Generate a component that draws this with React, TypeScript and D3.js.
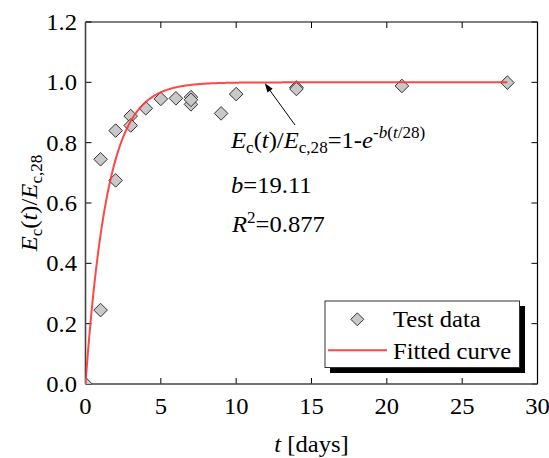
import React from "react";
import * as d3 from "d3";

const testT = [0, 1, 1, 2, 2, 3, 3, 4, 5, 6, 7, 7, 7, 9, 10, 14, 14, 21, 28];
const testY = [0, 0.245, 0.745, 0.675, 0.84, 0.888, 0.857, 0.914, 0.945, 0.947, 0.951, 0.927, 0.942, 0.897, 0.961, 0.983, 0.978, 0.988, 0.999];
const bParam = 19.11;
const xTicks = [0, 5, 10, 15, 20, 25, 30];
const yTicks = [0.0, 0.2, 0.4, 0.6, 0.8, 1.0, 1.2];

const W = 549, H = 458;
const L = 85.5, R = 537.5, T = 22, B = 384;
const FONT = "'Liberation Serif', 'Times New Roman', serif";
const FS = 23;
const SUB = 16;
const SX = 1.07;

function Txt({ x, y, rot = 0, anchor = "start", size = FS, children }: any) {
  return (
    <g transform={`translate(${x},${y}) rotate(${rot}) scale(${SX},1)`}>
      <text x={0} y={0} fontSize={size} textAnchor={anchor}>{children}</text>
    </g>
  );
}

export default function App() {
  const x = d3.scaleLinear().domain([0, 30]).range([L, R]);
  const y = d3.scaleLinear().domain([0, 1.2]).range([B, T]);
  const fitT = d3.range(0, 28.0001, 0.05);
  const line = d3.line<number>().x((t) => x(t)).y((t) => y(1 - Math.exp(-bParam * t / 28)));
  const diamond = (cx: number, cy: number, r = 6.8) =>
    `M${cx},${cy - r}L${cx + r},${cy}L${cx},${cy + r}L${cx - r},${cy}Z`;
  const arrowTip = [x(11.9), y(1.0) + 1];
  const arrowTail = [295, 125];
  const ang = Math.atan2(arrowTip[1] - arrowTail[1], arrowTip[0] - arrowTail[0]);
  const ah = 9, aw = 3.2;
  const ahPts = [
    arrowTip,
    [arrowTip[0] - ah * Math.cos(ang) + aw * Math.sin(ang), arrowTip[1] - ah * Math.sin(ang) - aw * Math.cos(ang)],
    [arrowTip[0] - ah * Math.cos(ang) - aw * Math.sin(ang), arrowTip[1] - ah * Math.sin(ang) + aw * Math.cos(ang)],
  ];
  return (
    <svg width={W} height={H} style={{ position: "absolute", left: 0, top: 0 }} fontFamily={FONT}>
      <rect width={W} height={H} fill="white" />
      <defs>
        <clipPath id="plotclip">
          <rect x={L} y={T} width={R - L} height={B - T} />
        </clipPath>
      </defs>
      {/* ticks */}
      {xTicks.map((t) => (
        <g key={"xt" + t}>
          <line x1={x(t)} x2={x(t)} y1={B} y2={B - 6} stroke="#000" strokeWidth={1} />
          <line x1={x(t)} x2={x(t)} y1={T} y2={T + 6} stroke="#000" strokeWidth={1} />
          <Txt x={x(t)} y={413.5} anchor="middle">{t}</Txt>
        </g>
      ))}
      {yTicks.map((v) => (
        <g key={"yt" + v}>
          <line x1={L} x2={L + 6} y1={y(v)} y2={y(v)} stroke="#000" strokeWidth={1} />
          <line x1={R} x2={R - 6} y1={y(v)} y2={y(v)} stroke="#000" strokeWidth={1} />
          <Txt x={77} y={y(v) + 8} anchor="end">{v.toFixed(1)}</Txt>
        </g>
      ))}
      {/* frame */}
      <line x1={L} x2={R} y1={T} y2={T} stroke="#000" strokeWidth={1.2} />
      <line x1={R} x2={R} y1={T} y2={B} stroke="#000" strokeWidth={1.2} />
      <line x1={L} x2={L} y1={T} y2={B} stroke="#444" strokeWidth={1.6} />
      <line x1={L} x2={R} y1={B} y2={B} stroke="#444" strokeWidth={1.6} />

      <g clipPath="url(#plotclip)">
        {testT.map((t, i) => (
          <path key={"p" + i} d={diamond(x(t), y(testY[i]))} fill="#c8c8c8" stroke="#333" strokeWidth={1} />
        ))}
        <path d={line(fitT) || ""} fill="none" stroke="#ff3333" strokeOpacity={0.9} strokeWidth={2} />
      </g>

      {/* annotation arrow */}
      <line x1={arrowTail[0]} y1={arrowTail[1]} x2={arrowTip[0] - 6 * Math.cos(ang)} y2={arrowTip[1] - 6 * Math.sin(ang)} stroke="#000" strokeWidth={1} />
      <polygon points={ahPts.map((p) => p.join(",")).join(" ")} fill="#000" />

      {/* annotation text */}
      <Txt x={231} y={148}>
        <tspan fontStyle="italic">E</tspan>
        <tspan fontSize={SUB} dy={5}>c</tspan>
        <tspan dy={-5}>(</tspan>
        <tspan fontStyle="italic">t</tspan>
        <tspan>)/</tspan>
        <tspan fontStyle="italic">E</tspan>
        <tspan fontSize={SUB} dy={5}>c,28</tspan>
        <tspan dy={-5}>=1-</tspan>
        <tspan fontStyle="italic">e</tspan>
        <tspan fontSize={SUB} dy={-10}>-</tspan>
        <tspan fontSize={SUB} fontStyle="italic">b</tspan>
        <tspan fontSize={SUB}>(</tspan>
        <tspan fontSize={SUB} fontStyle="italic">t</tspan>
        <tspan fontSize={SUB}>/28)</tspan>
      </Txt>
      <Txt x={231} y={192.5}>
        <tspan fontStyle="italic">b</tspan>
        <tspan>=19.11</tspan>
      </Txt>
      <Txt x={232} y={232}>
        <tspan fontStyle="italic">R</tspan>
        <tspan fontSize={SUB} dy={-9}>2</tspan>
        <tspan dy={9}>=0.877</tspan>
      </Txt>

      {/* legend */}
      <rect x={330} y={306} width={195} height={67} fill="#000" />
      <rect x={325} y={301} width={194.5} height={66.5} fill="#fff" stroke="#333" strokeWidth={1} />
      <path d={diamond(357.3, 319.3, 6.5)} fill="#c8c8c8" stroke="#333" strokeWidth={1} />
      <Txt x={393} y={327}>Test data</Txt>
      <line x1={328} x2={387} y1={350.3} y2={350.3} stroke="#ff3333" strokeOpacity={0.9} strokeWidth={2} />
      <Txt x={393} y={358.5}>Fitted curve</Txt>

      {/* axis titles */}
      <Txt x={311.5} y={452} anchor="middle">
        <tspan fontStyle="italic">t</tspan>
        <tspan> [days]</tspan>
      </Txt>
      <Txt x={37} y={(T + B) / 2} rot={-90} anchor="middle">
        <tspan fontStyle="italic">E</tspan>
        <tspan fontSize={SUB} dy={5}>c</tspan>
        <tspan dy={-5}>(</tspan>
        <tspan fontStyle="italic">t</tspan>
        <tspan>)/</tspan>
        <tspan fontStyle="italic">E</tspan>
        <tspan fontSize={SUB} dy={5}>c,28</tspan>
      </Txt>
    </svg>
  );
}
